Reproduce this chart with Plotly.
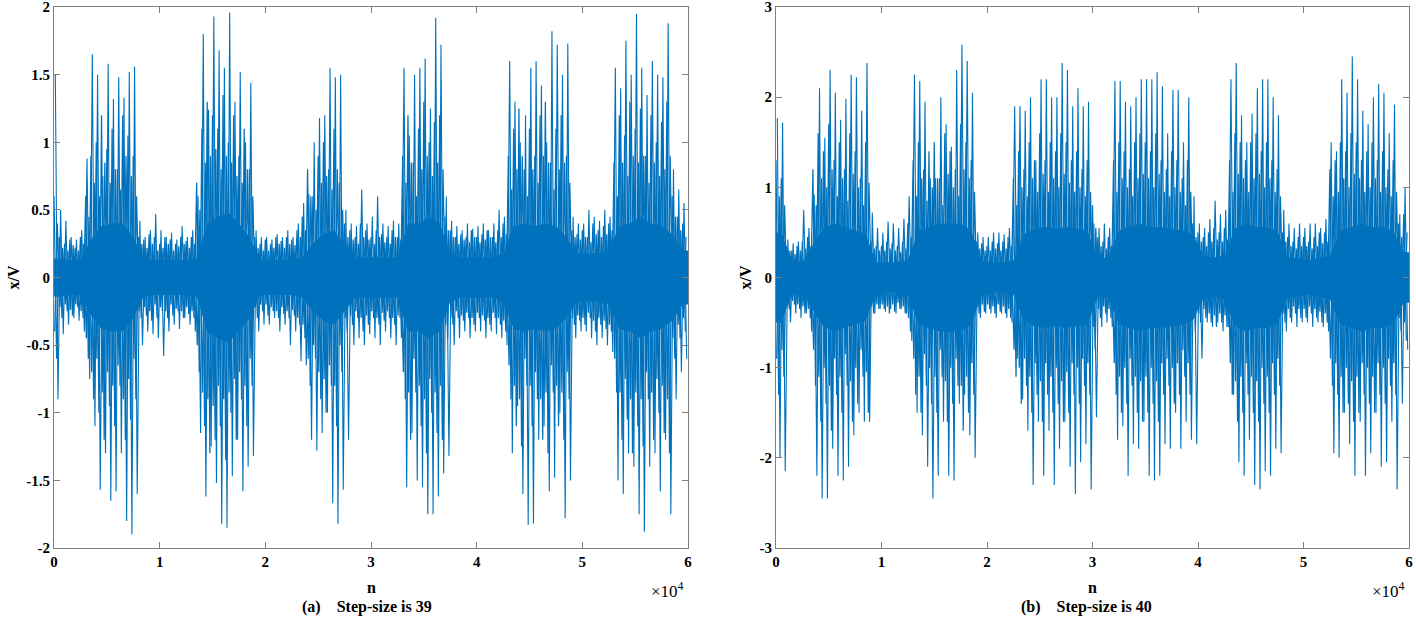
import plotly.graph_objects as go

# ---------------- data ----------------
BIN = 500          # samples per envelope bin
CORE_BIN = 1000    # samples per core-envelope value

# Panel (a): step-size 39 -- per-bin extreme positive peaks and negative troughs
a_peak = [1.5, 0.5, 0.42, 0.3, 0.28, 0.35, 0.88, 1.65, 1.5, 0.75,
          1.58, 1.32, 1.48, 1.33, 1.52, 1.56, 0.42, 0.3, 0.35, 0.47,
          0.35, 0.3, 0.33, 0.28, 0.38, 0.3, 0.35, 0.6, 1.8, 1.24,
          1.93, 1.68, 1.55, 1.96, 1.3, 1.52, 1.0, 1.44, 0.35, 0.3,
          0.3, 0.28, 0.32, 0.3, 0.35, 0.3, 0.4, 0.55, 0.62, 1.0,
          1.18, 1.2, 1.55, 1.48, 1.5, 0.5, 0.4, 0.38, 0.65, 0.4,
          0.45, 0.6, 0.4, 0.38, 0.42, 0.4, 1.55, 1.05, 1.5, 1.55,
          1.62, 1.25, 1.92, 1.72, 0.6, 0.42, 0.38, 0.35, 0.4, 0.36,
          0.38, 0.4, 0.35, 0.4, 0.5, 0.45, 1.6, 1.3, 1.0, 1.2,
          1.55, 1.6, 1.42, 1.0, 1.82, 1.72, 1.5, 1.73, 0.45, 0.4,
          0.4, 0.5, 0.45, 0.42, 0.5, 0.45, 1.55, 1.4, 1.75, 1.5,
          1.95, 1.55, 1.35, 1.6, 1.5, 1.48, 1.88, 0.8, 0.65, 0.55]
a_trough = [-0.9, -0.42, -0.35, -0.3, -0.32, -0.4, -0.75, -1.1, -1.57, -1.3,
            -1.65, -1.58, -1.3, -1.8, -1.9, -1.6, -0.5, -0.4, -0.42, -0.45,
            -0.58, -0.4, -0.35, -0.38, -0.3, -0.35, -0.4, -1.15, -1.62, -1.25,
            -1.52, -1.82, -1.85, -1.47, -1.2, -1.58, -1.4, -1.32, -0.4, -0.35,
            -0.35, -0.3, -0.4, -0.35, -0.5, -0.4, -0.62, -0.65, -1.2, -1.28,
            -1.15, -1.0, -1.67, -1.82, -1.57, -1.2, -0.5, -0.45, -0.5, -0.42,
            -0.45, -0.5, -0.4, -0.45, -0.5, -0.45, -1.55, -1.15, -1.5, -1.55,
            -1.75, -1.75, -1.62, -1.45, -1.32, -0.5, -0.45, -0.4, -0.45, -0.4,
            -0.4, -0.45, -0.4, -0.42, -0.45, -0.5, -1.3, -0.95, -1.6, -1.83,
            -1.82, -1.2, -1.1, -1.58, -1.48, -1.0, -1.78, -1.5, -0.45, -0.4,
            -0.4, -0.45, -0.5, -0.45, -0.5, -0.55, -1.5, -1.6, -1.3, -1.4,
            -1.75, -1.88, -1.4, -1.3, -1.58, -1.2, -1.75, -0.9, -0.7, -0.6]
# second- and third-level spike amplitudes of panel (a), per bin
a_mid = [0.6, 0.3, 0.25, 0.28, 0.22, 0.3, 0.6, 0.9, 1.0, 1.2,
         0.95, 1.1, 0.8, 1.2, 1.05, 0.9, 0.3, 0.28, 0.32, 0.3,
         0.25, 0.3, 0.28, 0.25, 0.3, 0.27, 0.3, 0.7, 1.1, 1.3,
         1.2, 1.1, 1.35, 1.0, 1.2, 0.9, 1.1, 0.8, 0.3, 0.25,
         0.28, 0.25, 0.3, 0.27, 0.3, 0.28, 0.35, 0.45, 0.8, 0.6,
         0.9, 1.0, 0.8, 1.1, 0.7, 0.4, 0.35, 0.3, 0.4, 0.35,
         0.3, 0.35, 0.32, 0.3, 0.35, 0.3, 0.9, 1.2, 0.85, 1.1,
         1.3, 1.0, 1.15, 1.2, 0.45, 0.35, 0.3, 0.32, 0.3, 0.35,
         0.3, 0.32, 0.35, 0.3, 0.35, 0.4, 0.9, 1.1, 1.25, 0.8,
         1.1, 0.9, 1.2, 1.3, 0.85, 1.1, 1.2, 0.9, 0.35, 0.32,
         0.35, 0.3, 0.4, 0.35, 0.38, 0.4, 0.85, 1.2, 1.05, 1.3,
         1.1, 1.25, 0.9, 1.2, 1.0, 1.15, 1.3, 0.6, 0.45, 0.4]
a_mid2 = [0.4, 0.22, 0.2, 0.24, 0.2, 0.25, 0.45, 0.7, 0.6, 0.85,
          0.7, 0.8, 0.65, 0.9, 0.75, 0.6, 0.25, 0.22, 0.25, 0.2,
          0.22, 0.25, 0.2, 0.23, 0.25, 0.22, 0.25, 0.5, 0.85, 0.9,
          0.95, 0.8, 0.9, 0.85, 0.75, 0.7, 0.8, 0.6, 0.22, 0.2,
          0.2, 0.22, 0.25, 0.22, 0.25, 0.24, 0.3, 0.35, 0.6, 0.5,
          0.7, 0.75, 0.65, 0.8, 0.5, 0.3, 0.28, 0.25, 0.3, 0.28,
          0.25, 0.3, 0.26, 0.25, 0.3, 0.28, 0.7, 0.85, 0.6, 0.8,
          0.9, 0.75, 0.85, 0.8, 0.35, 0.3, 0.25, 0.28, 0.26, 0.3,
          0.26, 0.28, 0.3, 0.26, 0.3, 0.32, 0.65, 0.8, 0.9, 0.6,
          0.8, 0.7, 0.9, 0.85, 0.65, 0.8, 0.85, 0.7, 0.3, 0.28,
          0.3, 0.26, 0.32, 0.3, 0.32, 0.35, 0.6, 0.85, 0.75, 0.9,
          0.85, 0.9, 0.7, 0.85, 0.75, 0.8, 0.9, 0.45, 0.35, 0.3]
# dense (solid) core amplitude of panel (a), per 1000 samples
a_core = [0.14, 0.13, 0.13, 0.28, 0.38, 0.4, 0.4, 0.3, 0.14, 0.13,
          0.13, 0.13, 0.13, 0.14, 0.4, 0.45, 0.48, 0.4, 0.3, 0.13,
          0.13, 0.13, 0.13, 0.15, 0.25, 0.32, 0.35, 0.25, 0.15, 0.15,
          0.15, 0.15, 0.15, 0.4, 0.4, 0.45, 0.4, 0.18, 0.15, 0.15,
          0.15, 0.15, 0.18, 0.38, 0.4, 0.38, 0.4, 0.38, 0.3, 0.18,
          0.18, 0.18, 0.2, 0.38, 0.4, 0.45, 0.4, 0.38, 0.32, 0.2]

# Panel (b): step-size 40
b_peak = [1.77, 1.72, 0.42, 0.38, 0.4, 0.75, 0.55, 0.92, 2.1, 1.55,
          2.3, 2.05, 1.75, 1.98, 2.25, 2.22, 1.85, 2.38, 0.72, 0.55,
          0.5, 0.62, 0.6, 0.55, 0.65, 0.9, 2.25, 2.18, 1.95, 1.1,
          1.1, 2.0, 1.7, 1.45, 2.3, 2.58, 2.4, 2.05, 0.5, 0.45,
          0.45, 0.5, 0.5, 0.48, 0.55, 1.9, 1.9, 1.85, 2.0, 1.3,
          2.2, 2.2, 2.0, 2.0, 2.38, 2.3, 1.9, 2.1, 1.9, 1.95,
          0.6, 0.55, 0.6, 0.55, 2.18, 2.18, 1.95, 1.9, 2.0, 2.2,
          2.2, 2.2, 2.28, 2.12, 1.6, 2.08, 2.08, 1.5, 2.0, 0.9,
          0.6, 0.55, 0.65, 0.85, 0.7, 0.75, 2.2, 2.38, 1.8, 1.5,
          1.82, 2.1, 2.2, 2.2, 2.0, 1.8, 0.75, 0.6, 0.55, 0.6,
          0.55, 0.6, 0.6, 0.55, 0.65, 1.5, 1.4, 2.2, 2.05, 2.45,
          2.2, 1.85, 1.7, 2.0, 2.15, 2.05, 1.6, 1.92, 0.7, 1.0]
b_trough = [-2.0, -2.15, -0.5, -0.4, -0.45, -0.4, -0.6, -2.2, -2.45, -2.45,
            -1.9, -2.2, -2.25, -2.1, -1.75, -1.5, -1.6, -1.6, -0.4, -0.35,
            -0.38, -0.35, -0.4, -0.35, -0.4, -0.7, -1.5, -1.75, -2.1, -2.45,
            -2.2, -1.6, -2.2, -2.25, -1.4, -1.3, -1.75, -2.0, -0.45, -0.4,
            -0.4, -0.45, -0.4, -0.45, -0.5, -0.9, -1.35, -1.7, -2.3, -1.6,
            -2.2, -1.7, -2.3, -1.9, -1.6, -2.1, -2.4, -2.05, -1.85, -2.35,
            -1.55, -0.55, -0.5, -0.55, -1.8, -1.65, -2.2, -1.85, -1.9, -1.6,
            -2.2, -2.25, -2.2, -1.85, -1.9, -1.5, -1.9, -1.6, -1.8, -1.85,
            -0.9, -0.5, -0.55, -0.5, -0.6, -0.55, -1.3, -2.05, -2.2, -1.8,
            -2.3, -2.35, -2.15, -2.2, -1.9, -1.95, -0.6, -0.5, -0.55, -0.5,
            -0.5, -0.55, -0.5, -0.55, -0.6, -1.95, -2.0, -1.5, -1.85, -2.2,
            -1.6, -2.2, -1.95, -1.5, -2.1, -2.05, -1.6, -2.35, -1.4, -0.8]
b_mid = [1.3, 1.1, 0.35, 0.3, 0.35, 0.4, 0.45, 1.2, 1.6, 1.4,
         1.7, 1.3, 1.5, 1.2, 1.6, 1.4, 1.1, 1.5, 0.4, 0.35,
         0.35, 0.4, 0.38, 0.35, 0.4, 0.6, 1.3, 1.5, 1.2, 1.4,
         1.5, 1.1, 1.6, 1.4, 1.2, 1.7, 1.5, 1.3, 0.4, 0.38,
         0.35, 0.4, 0.38, 0.4, 0.45, 1.1, 1.4, 1.2, 1.5, 1.3,
         1.6, 1.3, 1.5, 1.4, 1.6, 1.5, 1.3, 1.4, 1.2, 1.3,
         0.8, 0.45, 0.4, 0.45, 1.3, 1.5, 1.4, 1.2, 1.5, 1.6,
         1.5, 1.4, 1.6, 1.3, 1.2, 1.4, 1.3, 1.1, 1.3, 0.6,
         0.5, 0.45, 0.5, 0.55, 0.5, 0.55, 1.3, 1.6, 1.5, 1.3,
         1.5, 1.6, 1.4, 1.5, 1.3, 1.2, 0.5, 0.45, 0.4, 0.45,
         0.45, 0.4, 0.45, 0.5, 0.5, 1.2, 1.3, 1.5, 1.4, 1.6,
         1.5, 1.3, 1.4, 1.5, 1.3, 1.4, 1.2, 1.3, 0.6, 0.7]
b_mid2 = [0.9, 0.8, 0.3, 0.26, 0.3, 0.32, 0.35, 0.8, 1.1, 1.0,
          1.2, 0.9, 1.1, 0.85, 1.15, 1.0, 0.8, 1.05, 0.32, 0.3,
          0.3, 0.32, 0.3, 0.28, 0.32, 0.45, 0.9, 1.1, 0.85, 1.0,
          1.1, 0.8, 1.15, 1.0, 0.9, 1.2, 1.1, 0.95, 0.32, 0.3,
          0.3, 0.32, 0.3, 0.32, 0.35, 0.8, 1.0, 0.9, 1.1, 0.95,
          1.15, 0.95, 1.1, 1.0, 1.15, 1.05, 0.95, 1.0, 0.9, 0.95,
          0.55, 0.35, 0.32, 0.35, 0.95, 1.1, 1.0, 0.9, 1.1, 1.15,
          1.1, 1.0, 1.15, 0.95, 0.9, 1.0, 0.95, 0.8, 0.95, 0.45,
          0.4, 0.35, 0.4, 0.42, 0.4, 0.42, 0.95, 1.15, 1.1, 0.95,
          1.1, 1.15, 1.0, 1.1, 0.95, 0.9, 0.4, 0.35, 0.32, 0.35,
          0.35, 0.32, 0.35, 0.38, 0.4, 0.9, 0.95, 1.1, 1.0, 1.15,
          1.1, 0.95, 1.0, 1.1, 0.95, 1.0, 0.9, 0.95, 0.45, 0.5]
b_core = [0.5, 0.19, 0.17, 0.36, 0.55, 0.6, 0.56, 0.52, 0.48, 0.17,
          0.17, 0.17, 0.19, 0.52, 0.56, 0.6, 0.6, 0.6, 0.52, 0.19,
          0.17, 0.17, 0.19, 0.48, 0.54, 0.56, 0.54, 0.56, 0.54, 0.52,
          0.22, 0.22, 0.52, 0.56, 0.6, 0.56, 0.56, 0.54, 0.52, 0.48,
          0.24, 0.22, 0.24, 0.54, 0.6, 0.56, 0.56, 0.52, 0.22, 0.22,
          0.19, 0.22, 0.24, 0.52, 0.56, 0.6, 0.56, 0.56, 0.52, 0.28]

x_tick_vals = [0, 10000, 20000, 30000, 40000, 50000, 60000]
x_tick_text = ["0", "1", "2", "3", "4", "5", "6"]
a_y_ticks = [-2, -1.5, -1, -0.5, 0, 0.5, 1, 1.5, 2]
a_y_text = ["-2", "-1.5", "-1", "-0.5", "0", "0.5", "1", "1.5", "2"]
b_y_ticks = [-3, -2, -1, 0, 1, 2, 3]
b_y_text = ["-3", "-2", "-1", "0", "1", "2", "3"]
captions = ["(a)\u00a0\u00a0\u00a0\u00a0Step-size is 39", "(b)\u00a0\u00a0\u00a0\u00a0Step-size is 40"]

# ---------------- figure ----------------
BLUE = "#0072BD"
AXC = "#808080"
FONT = "Liberation Serif, Times New Roman, serif"
LW = 1.25


def zigzag(peaks, troughs, offset_a, offset_b):
    xs, ys = [], []
    for i, (p, t) in enumerate(zip(peaks, troughs)):
        xs += [i * BIN + BIN * offset_a, i * BIN + BIN * offset_b]
        ys += [p, t]
    return xs, ys


def core_band(core):
    xc = [k * CORE_BIN + CORE_BIN / 2 for k in range(len(core))]
    xs = [0] + xc + [60000] + [60000] + xc[::-1] + [0]
    ys = [core[0]] + core + [core[-1]] + [-core[-1]] + [-c for c in core[::-1]] + [-core[0]]
    return xs, ys


fig = go.Figure()
panels = [(a_peak, a_trough, a_mid, a_mid2, a_core, "x", "y"),
          (b_peak, b_trough, b_mid, b_mid2, b_core, "x2", "y2")]
for peaks, troughs, mid, mid2, core, xa, ya in panels:
    bx, by = core_band(core)
    fig.add_trace(go.Scatter(x=bx, y=by, mode="lines", fill="toself", fillcolor=BLUE,
                             line=dict(width=0, color=BLUE), xaxis=xa, yaxis=ya,
                             hoverinfo="skip", showlegend=False))
    m2x, m2y = zigzag([-m for m in mid2], mid2, 0.125, 0.625)
    fig.add_trace(go.Scatter(x=m2x, y=m2y, mode="lines", line=dict(width=LW, color=BLUE),
                             xaxis=xa, yaxis=ya, hoverinfo="skip", showlegend=False))
    mx, my = zigzag(mid, [-m for m in mid], 0.0, 0.5)
    fig.add_trace(go.Scatter(x=mx, y=my, mode="lines", line=dict(width=LW, color=BLUE),
                             xaxis=xa, yaxis=ya, hoverinfo="skip", showlegend=False))
    zx, zy = zigzag(peaks, troughs, 0.25, 0.75)
    fig.add_trace(go.Scatter(x=zx, y=zy, mode="lines", line=dict(width=1.1, color=BLUE),
                             xaxis=xa, yaxis=ya, hoverinfo="skip", showlegend=False))

W, H = 1416, 620
xdom_a = [54 / W, 688 / W]
xdom_b = [776 / W, 1409 / W]
ydom = [(H - 548) / H, (H - 7) / H]

axis_common = dict(showline=True, linecolor=AXC, linewidth=1, mirror="ticks",
                   ticks="inside", ticklen=6, tickcolor=AXC, showgrid=False, zeroline=False,
                   ticklabeloverflow="allow", automargin=False,
                   tickfont=dict(family=FONT, size=15, color="black", weight="bold"))

fig.update_layout(
    width=W, height=H, margin=dict(l=0, r=0, t=0, b=0, pad=0),
    paper_bgcolor="white", plot_bgcolor="white",
    font=dict(family=FONT, color="black"),
    xaxis=dict(domain=xdom_a, range=[0, 60000], tickvals=x_tick_vals, ticktext=x_tick_text,
               anchor="y", **axis_common),
    yaxis=dict(domain=ydom, range=[-2, 2], tickvals=a_y_ticks, ticktext=a_y_text,
               anchor="x", **axis_common),
    xaxis2=dict(domain=xdom_b, range=[0, 60000], tickvals=x_tick_vals, ticktext=x_tick_text,
                anchor="y2", **axis_common),
    yaxis2=dict(domain=ydom, range=[-3, 3], tickvals=b_y_ticks, ticktext=b_y_text,
                anchor="x2", **axis_common),
)

ann = []
for xd, cap, cap_dx, lab_dx in [(xdom_a, captions[0], -4, 41), (xdom_b, captions[1], -6, 31)]:
    cx = (xd[0] + xd[1]) / 2
    ann.append(dict(x=cx, y=1 - 587 / H, xref="paper", yref="paper", text="<b>n</b>",
                    xanchor="center", yanchor="middle",
                    showarrow=False, font=dict(family=FONT, size=16, color="black")))
    ann.append(dict(x=cx + cap_dx / W, y=1 - 607 / H, xref="paper", yref="paper",
                    text="<b>" + cap + "</b>", xanchor="center", yanchor="middle",
                    showarrow=False, font=dict(family=FONT, size=16, color="black")))
    ann.append(dict(x=xd[1] - 2 / W, y=1 - 590 / H, xref="paper", yref="paper",
                    text="\u00d710<sup>4</sup>", xanchor="right", yanchor="middle",
                    showarrow=False, font=dict(family=FONT, size=17, color="black")))
    ann.append(dict(x=xd[0] - lab_dx / W, y=(ydom[0] + ydom[1]) / 2, xref="paper", yref="paper",
                    text="<b>x/V</b>", textangle=-90, xanchor="center", yanchor="middle",
                    showarrow=False, font=dict(family=FONT, size=16, color="black")))
fig.update_layout(annotations=ann)

fig.write_html("out.html", config={"displayModeBar": False},
               post_script="document.body.style.margin='0px';")
